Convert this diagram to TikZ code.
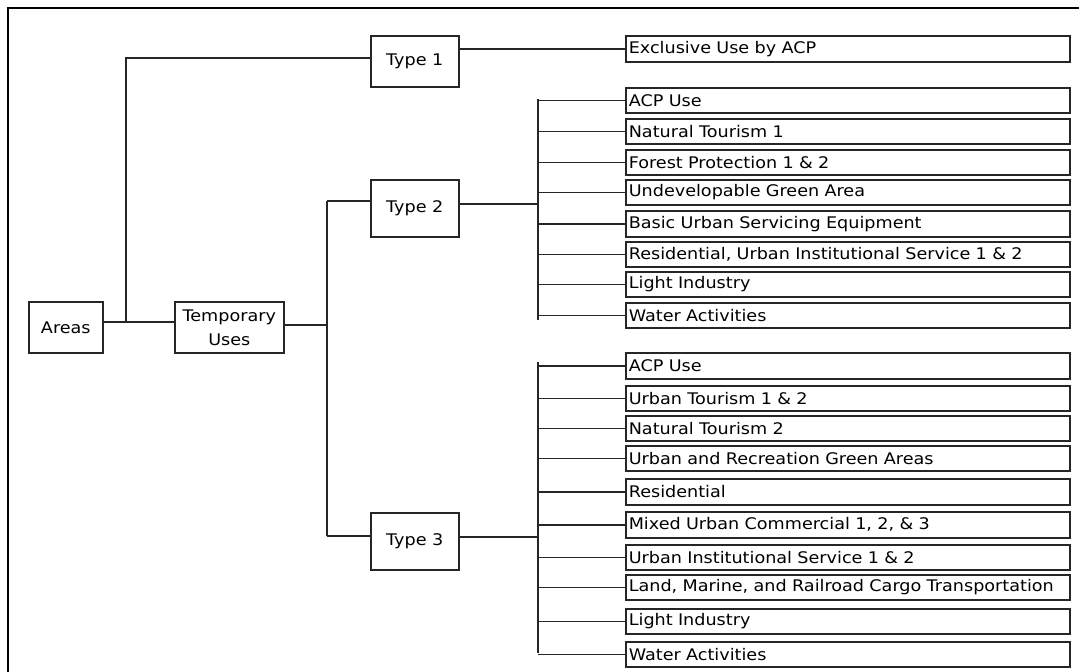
\documentclass[tikz,border=0pt]{standalone}
\usepackage{fontspec}
\setmainfont[FakeStretch=1.1]{DejaVu Sans}
\begin{document}
\begin{tikzpicture}[x=1pt,y=-1pt,
  every node/.style={font=\fontsize{16}{19}\selectfont, text=black},
  box/.style={draw=black!85, line width=1.6pt, anchor=north west, inner sep=0pt, align=center},
  leaf/.style={draw=black!85, line width=1.6pt, anchor=north west, minimum height=25pt, text width=438pt, inner xsep=3pt, inner ysep=0pt, align=left},
  conn/.style={draw=black!85, line width=1.5pt}]
\useasboundingbox (0,0) rectangle (1079,672);
\draw[line width=1.8pt] (8,672) -- (8,8) -- (1079,8);

% main boxes
\node[box, minimum width=74pt, minimum height=51pt] (areas) at (28,301) {Areas};
\node[box, minimum width=109pt, minimum height=51pt] (temp) at (174,301) {Temporary\\[5pt]Uses};
\node[box, minimum width=88pt, minimum height=51pt] (t1) at (370,35) {Type 1};
\node[box, minimum width=88pt, minimum height=57pt] (t2) at (370,179) {Type 2};
\node[box, minimum width=88pt, minimum height=57pt] (t3) at (370,512) {Type 3};

% leaves
\node[leaf, minimum height=26pt] (ex) at (625,35) {Exclusive Use by ACP};

\node[leaf] (a1) at (625,87) {ACP Use};
\node[leaf] (a2) at (625,118) {Natural Tourism 1};
\node[leaf] (a3) at (625,149) {Forest Protection 1 \& 2};
\node[leaf] (a4) at (625,179) {Undevelopable Green Area};
\node[leaf, minimum height=26pt] (a5) at (625,210) {Basic Urban Servicing Equipment};
\node[leaf] (a6) at (625,241) {Residential, Urban Institutional Service 1 \& 2};
\node[leaf] (a7) at (625,271) {Light Industry};
\node[leaf] (a8) at (625,302) {Water Activities};

\node[leaf, minimum height=26pt] (b1) at (625,352) {ACP Use};
\node[leaf] (b2) at (625,385) {Urban Tourism 1 \& 2};
\node[leaf] (b3) at (625,415) {Natural Tourism 2};
\node[leaf] (b4) at (625,445) {Urban and Recreation Green Areas};
\node[leaf, minimum height=26pt] (b5) at (625,478) {Residential};
\node[leaf, minimum height=26pt] (b6) at (625,511) {Mixed Urban Commercial 1, 2, \& 3};
\node[leaf] (b7) at (625,544) {Urban Institutional Service 1 \& 2};
\node[leaf] (b8) at (625,574) {Land, Marine, and Railroad Cargo Transportation};
\node[leaf] (b9) at (625,608) {Light Industry};
\node[leaf] (b10) at (625,641) {Water Activities};

% junction coordinates
\coordinate (jA) at (126,322);
\coordinate (k1) at (126,58);
\coordinate (jB) at (327,325);
\coordinate (k2) at (327,201);
\coordinate (k3) at (327,536);
\coordinate (bus2top) at (538,99);
\coordinate (bus2bot) at (538,320);
\coordinate (bus2in) at (538,204);
\coordinate (bus3top) at (538,362);
\coordinate (bus3bot) at (538,653);
\coordinate (bus3in) at (538,537);

% connectors
\draw[conn] (areas.east |- jA) -- (temp.west |- jA);
\draw[conn] (jA) -- (k1) -- (t1.west |- k1);
\draw[conn] (temp.east |- jB) -- (jB);
\draw[conn] (k2) -- (k3);
\draw[conn] (k2) -- (t2.west |- k2);
\draw[conn] (k3) -- (t3.west |- k3);
\draw[conn] (t1.east |- ex.west) -- (ex.west);

\draw[conn] (bus2top) -- (bus2bot);
\draw[conn] (t2.east |- bus2in) -- (bus2in);
\foreach \n in {a1,a2,a3,a4,a5,a6,a7,a8}
  \draw[conn] (bus2top |- \n.west) -- (\n.west);

\draw[conn] (bus3top) -- (bus3bot);
\draw[conn] (t3.east |- bus3in) -- (bus3in);
\foreach \n in {b1,b2,b3,b4,b5,b6,b7,b8,b9,b10}
  \draw[conn] (bus3top |- \n.west) -- (\n.west);
\end{tikzpicture}
\end{document}
